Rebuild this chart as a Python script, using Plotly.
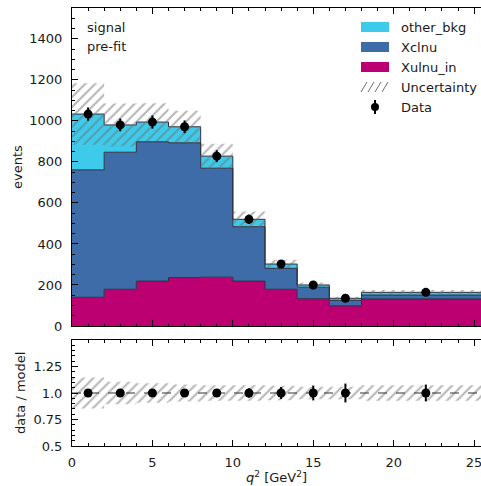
import numpy as np
import plotly.graph_objects as go

# ---- data ----
bin_edges = [0, 2, 4, 6, 8, 10, 12, 14, 16, 18, 26]
bin_centers = [1, 3, 5, 7, 9, 11, 13, 15, 17, 22]
xulnu_in = [140, 179, 219, 236, 238, 219, 179, 133, 98, 132]
xclnu = [621, 668, 679, 657, 531, 265, 102, 56, 27, 19]
other_bkg = [272, 133, 96, 78, 59, 36, 21, 11, 10, 13]
model_unc = [150, 105, 92, 78, 60, 38, 21, 12, 8, 12]
data_vals = [1033, 980, 994, 971, 828, 520, 302, 200, 135, 164]
data_errs = [32, 31, 32, 31, 29, 23, 17, 14, 12, 13]

C_OTHER = "#3ecbeb"
C_XC = "#3d6ca8"
C_XU = "#bd0071"
EDGE = "#2e2e3e"
HATCH = "#6e6e6e"
FONT = "DejaVu Sans"
TXT = "#1a1a1a"

W, H = 481, 486
ML, MR, MT, MB = 72, 0, 8, 40
PW, PH = W - ML - MR, H - MT - MB


def px(x):
    return (x - ML) / PW


def py(y):
    return (H - MB - y) / PH


xulnu_in_a = np.array(xulnu_in, float)
xclnu_a = np.array(xclnu, float)
other_a = np.array(other_bkg, float)
lvl1 = xulnu_in_a
lvl2 = lvl1 + xclnu_a
lvl3 = lvl2 + other_a
unc_a = np.array(model_unc, float)
dat = np.array(data_vals, float)
derr = np.array(data_errs, float)


def step(v):
    return list(v) + [v[-1]]


fig = go.Figure()

# stacked components
fig.add_trace(go.Scatter(x=bin_edges, y=step(lvl1), mode="lines", line=dict(shape="hv", color=EDGE, width=1),
                         fill="tozeroy", fillcolor=C_XU, showlegend=False, xaxis="x", yaxis="y"))
fig.add_trace(go.Scatter(x=bin_edges, y=step(lvl2), mode="lines", line=dict(shape="hv", color=EDGE, width=1),
                         fill="tonexty", fillcolor=C_XC, showlegend=False, xaxis="x", yaxis="y"))
fig.add_trace(go.Scatter(x=bin_edges, y=step(lvl3), mode="lines", line=dict(shape="hv", color=EDGE, width=1),
                         fill="tonexty", fillcolor=C_OTHER, showlegend=False, xaxis="x", yaxis="y"))

pattern = dict(shape="/", fgcolor=HATCH, bgcolor="rgba(0,0,0,0)", size=7, solidity=0.3)

# uncertainty band (top)
fig.add_trace(go.Scatter(x=bin_edges, y=step(lvl3 - unc_a), mode="lines", line=dict(shape="hv", width=0),
                         showlegend=False, xaxis="x", yaxis="y"))
fig.add_trace(go.Scatter(x=bin_edges, y=step(lvl3 + unc_a), mode="lines", line=dict(shape="hv", width=0),
                         fill="tonexty", fillcolor="rgba(0,0,0,0)", fillpattern=pattern,
                         showlegend=False, xaxis="x", yaxis="y"))

# data (top)
fig.add_trace(go.Scatter(x=bin_centers, y=dat, mode="markers",
                         marker=dict(color="black", size=9),
                         error_y=dict(type="data", array=derr, color="black", thickness=2, width=0),
                         showlegend=False, xaxis="x", yaxis="y"))

# ratio panel
ratio = dat / lvl3
rel_unc = unc_a / lvl3
rerr = derr / lvl3
fig.add_trace(go.Scatter(x=bin_edges, y=step(1 - rel_unc), mode="lines", line=dict(shape="hv", width=0),
                         showlegend=False, xaxis="x2", yaxis="y2"))
fig.add_trace(go.Scatter(x=bin_edges, y=step(1 + rel_unc), mode="lines", line=dict(shape="hv", width=0),
                         fill="tonexty", fillcolor="rgba(0,0,0,0)", fillpattern=pattern,
                         showlegend=False, xaxis="x2", yaxis="y2"))
fig.add_trace(go.Scatter(x=[0, 26], y=[1, 1], mode="lines", line=dict(color="#333333", width=1.2, dash="dash"),
                         showlegend=False, xaxis="x2", yaxis="y2"))
fig.add_trace(go.Scatter(x=bin_centers, y=ratio, mode="markers",
                         marker=dict(color="black", size=9),
                         error_y=dict(type="data", array=rerr, color="black", thickness=2, width=0),
                         showlegend=False, xaxis="x2", yaxis="y2"))

XR = [0, 25.43]
axis_common = dict(showline=True, linecolor="black", linewidth=1, ticks="inside", ticklen=6, tickwidth=1,
                   tickcolor="black", showgrid=False, zeroline=False,
                   tickfont=dict(family=FONT, size=13, color=TXT))

top_dom = [py(326), 1.0]
bot_dom = [0.0, py(340)]

fig.update_layout(
    width=W, height=H, margin=dict(l=ML, r=MR, t=MT, b=MB),
    paper_bgcolor="white", plot_bgcolor="white", showlegend=False,
    font=dict(family=FONT, size=13, color=TXT),
    xaxis=dict(axis_common, domain=[0, 1], range=XR, anchor="y", mirror="allticks", dtick=5,
               showticklabels=False, minor=dict(ticks="inside", dtick=1, ticklen=3, tickcolor="black")),
    yaxis=dict(axis_common, domain=top_dom, range=[0, 1550], anchor="x", dtick=200, ticklabelstandoff=6,
               minor=dict(ticks="inside", dtick=50, ticklen=3, tickcolor="black")),
    xaxis2=dict(axis_common, domain=[0, 1], range=XR, anchor="y2", matches="x", mirror="allticks", dtick=5,
                ticklabelstandoff=4, ticklabeloverflow="allow",
                minor=dict(ticks="inside", dtick=1, ticklen=3, tickcolor="black")),
    yaxis2=dict(axis_common, domain=bot_dom, range=[0.5, 1.5], anchor="x2",
                tickvals=[0.5, 0.75, 1.0, 1.25], ticktext=["0.5", "0.75", "1.0", "1.25"], ticklabelstandoff=6,
                minor=dict(ticks="inside", dtick=0.05, ticklen=3, tickcolor="black")),
)

annotations = []
shapes = []


def ann(text, x, y, xanchor="left", angle=0, size=13):
    annotations.append(dict(text=text, x=px(x), y=py(y), xref="paper", yref="paper", xanchor=xanchor,
                            yanchor="middle", showarrow=False, textangle=angle,
                            font=dict(family=FONT, size=size, color=TXT)))


ann("signal", 85, 27)
ann("pre-fit", 85, 46)
ann("events", 17, 167, xanchor="center", angle=-90)
ann("data / model", 20, 393, xanchor="center", angle=-90)
ann("<i>q</i><sup>2</sup> [GeV<sup>2</sup>]", 276, 477, xanchor="center")

# manual legend
leg_names = ["other_bkg", "Xclnu", "Xulnu_in", "Uncertainty", "Data"]
leg_cols = [C_OTHER, C_XC, C_XU, None, None]
leg_y = [27, 47, 67, 87, 107]
for name, col, yy in zip(leg_names, leg_cols, leg_y):
    ann(name, 399, yy)
    if col is not None:
        shapes.append(dict(type="rect", xref="paper", yref="paper", x0=px(361), x1=px(389),
                           y0=py(yy + 5), y1=py(yy - 5), fillcolor=col, line=dict(width=0)))
for xs in [361, 368, 375, 382]:
    shapes.append(dict(type="line", xref="paper", yref="paper", x0=px(xs), x1=px(xs + 6),
                       y0=py(92), y1=py(82), line=dict(color=HATCH, width=1)))
shapes.append(dict(type="line", xref="paper", yref="paper", x0=px(375), x1=px(375),
                   y0=py(114), y1=py(100), line=dict(color="black", width=2)))
shapes.append(dict(type="circle", xref="paper", yref="paper", x0=px(371), x1=px(379),
                   y0=py(111), y1=py(103), fillcolor="black", line=dict(width=0)))

fig.update_layout(annotations=annotations, shapes=shapes)

fig.write_html("out.html")
